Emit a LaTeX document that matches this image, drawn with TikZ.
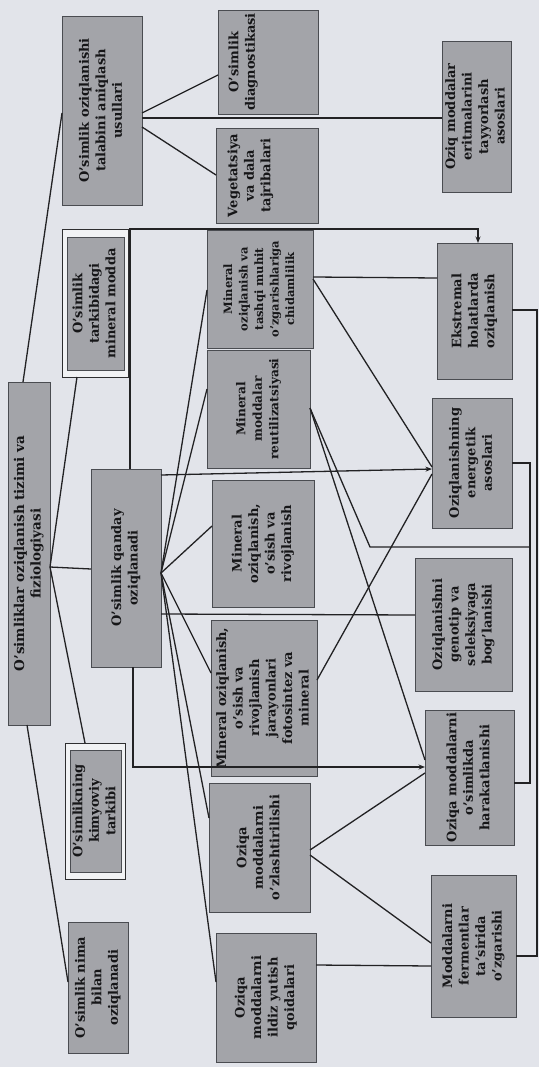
\documentclass[tikz,border=0pt]{standalone}
\usepackage{fontspec}
\setmainfont{DejaVu Serif}
\usepackage{graphicx}
\usetikzlibrary{arrows.meta}
\definecolor{bg}{HTML}{E2E4EA}
\definecolor{boxfill}{HTML}{A3A4A9}
\definecolor{boxline}{HTML}{4A4C51}
\definecolor{framefill}{HTML}{F1F2F4}
\definecolor{frameline}{HTML}{2E2E30}
\definecolor{ln}{HTML}{222224}
\definecolor{txt}{HTML}{161618}
\newcommand\bxfont{\fontsize{13}{16.5}\selectfont\bfseries}
\newcommand\mkbox[7][]{%
  \node[gbox,#1,minimum width={(#5-#3)*1pt},minimum height={(#6-#4)*1pt}] (#2)
    at ({(#3+#5)/2},{(#4+#6)/2}) {\rotatebox{90}{\begin{tabular}{@{}c@{}}#7\end{tabular}}};}
\begin{document}
\begin{tikzpicture}[x=1pt,y=-1pt,
  gbox/.style={draw=boxline, fill=boxfill, line width=0.9pt, inner sep=0pt, outer sep=0pt, font=\bxfont, text=txt},
  framebox/.style={draw=frameline, fill=framefill, line width=1pt},
  conn/.style={draw=ln, line width=1.3pt},
  arr/.style={conn,-{Stealth[length=6.5pt,width=5pt]}}]
\fill[bg] (0,0) rectangle (539,1067);
\useasboundingbox (0,0) rectangle (539,1067);

% left part
\mkbox{usul}{62}{16}{142}{205}{O’simlik oziqlanishi\\talabini aniqlash\\usullari}
\mkbox{diag}{218}{10}{318}{114}{O’simlik\\diagnostikasi\\{}\\{}\\{}}
\mkbox{veg}{216}{128}{318}{223}{Vegetatsiya\\va dala\\tajribalari\\{}\\{}}
\mkbox{erit}{442}{41}{511}{192}{Oziq moddalar\\eritmalarini\\tayyorlash\\asoslari}
\mkbox[framebox]{tarkF}{62}{230}{128}{377}{}
\mkbox{tark}{67}{237}{124}{370}{O’simlik\\tarkibidagi\\mineral modda}
\mkbox[font=\fontsize{13.5}{16.5}\selectfont\bfseries]{main}{8}{382}{50}{725}{O’simliklar oziqlanish tizimi va\\fiziologiyasi}
\mkbox{qanday}{91}{469}{161}{667}{O’simlik qanday\\oziqlanadi}
\mkbox[framebox]{kimF}{65}{743}{125}{879}{}
\mkbox{kim}{70}{750}{121}{872}{O’simlikning\\kimyoviy\\tarkibi}
\mkbox{nima}{68}{922}{128}{1053}{O’simlik nima\\bilan\\oziqlanadi}

% middle column
\mkbox[font=\fontsize{11.5}{15.5}\selectfont\bfseries]{tashqi}{207}{230}{313}{348}{Mineral\\oziqlanish va\\tashqi muhit\\o’zgarishlariga\\chidamlilik}
\mkbox[font=\fontsize{12.2}{16.5}\selectfont\bfseries]{reutil}{207}{350}{310}{468}{Mineral\\moddalar\\reutilizatsiyasi}
\mkbox{osish}{212}{480}{314}{607}{Mineral\\oziqlanish,\\o’sish va\\rivojlanish}
\mkbox{jaray}{211}{620}{317}{776}{Mineral oziqlanish,\\o’sish va\\rivojlanish\\jarayonlari\\fotosintez va\\mineral}
\mkbox{ozlash}{209}{783}{310}{912}{Oziqa\\moddalarni\\o’zlashtirilishi}
\mkbox{ildiz}{216}{933}{316}{1062}{Oziqa\\moddalarni\\ildiz yutish\\qoidalari}

% right column
\mkbox{ekst}{437}{243}{512}{379}{Ekstremal\\holatlarda\\oziqlanish}
\mkbox{energ}{432}{398}{512}{528}{Oziqlanishning\\energetik\\asoslari}
\mkbox{genot}{415}{558}{512}{691}{Oziqlanishni\\genotip va\\seleksiyaga\\bog’lanishi}
\mkbox{harak}{425}{710}{514}{845}{Oziqa moddalarni\\o’simlikda\\harakatlanishi}
\mkbox{ferm}{431}{875}{516}{1017}{Moddalarni\\fermentlar\\ta’sirida\\o’zgarishi}

\coordinate (c1) at (478,229);
\coordinate (c2) at (370,547);
\coordinate (c3) at (530,547);
\coordinate (c4) at (530,783);
\coordinate (c5) at (537,956);

% main connections
\draw[conn] (main.north -| 23,0) -- (usul.west |- 0,113);
\draw[conn] (main.south -| 27,0) -- (nima.west |- 0,982);
\draw[conn] (main.east |- 0,567) -- (tarkF.south -| 77,0);
\draw[conn] (main.east |- 0,567) -- (qanday.west |- 0,569);
\draw[conn] (main.east |- 0,567) -- (kimF.north -| 85,0);

% usullari connections
\draw[conn] (usul.east |- 0,113) -- (diag.west |- 0,75);
\draw[conn] (usul.east |- 0,127) -- (veg.west |- 0,175);
\draw[conn] (usul.east |- 0,118) -- (erit.west |- 0,118);

% qanday connections
\draw[arr] (qanday.north -| 130,0) |- (c1) -- (ekst.north -| c1);
\draw[conn] (qanday.east |- 0,573) -- (tashqi.west |- 0,290);
\draw[conn] (qanday.east |- 0,573) -- (reutil.west |- 0,389);
\draw[arr] (qanday.east |- 0,475) -- (energ.west |- 0,469);
\draw[conn] (qanday.east |- 0,573) -- (osish.west |- 0,526);
\draw[conn] (qanday.east |- 0,614) -- (genot.west |- 0,615);
\draw[conn] (qanday.east |- 0,573) -- (jaray.west |- 0,673);
\draw[conn] (qanday.east |- 0,573) -- (ozlash.west |- 0,818);
\draw[conn] (qanday.east |- 0,573) -- (ildiz.west |- 0,982);
\draw[arr] (qanday.south -| 133,0) |- (harak.west |- 0,767);

% middle to right
\draw[conn] (tashqi.east |- 0,277) -- (ekst.west |- 0,278);
\draw[conn] (tashqi.east |- 0,279) -- (energ.west |- 0,467);
\draw[conn] (reutil.east |- 0,408) -- (c2) -- (c3);
\draw[conn] (reutil.east |- 0,408) -- (harak.west |- 0,760);
\draw[conn] (jaray.east |- 0,680) -- (energ.west |- 0,474);
\draw[conn] (ozlash.east |- 0,850) -- (harak.west |- 0,773);
\draw[conn] (ozlash.east |- 0,855) -- (ferm.west |- 0,943);
\draw[conn] (ildiz.east |- 0,965) -- (ferm.west |- 0,966);

% right brackets
\draw[conn] (energ.east |- 0,463) -| (c4) -- (harak.east |- 0,783);
\draw[conn] (ekst.east |- 0,310) -| (c5) -- (ferm.east |- 0,956);
\end{tikzpicture}
\end{document}
